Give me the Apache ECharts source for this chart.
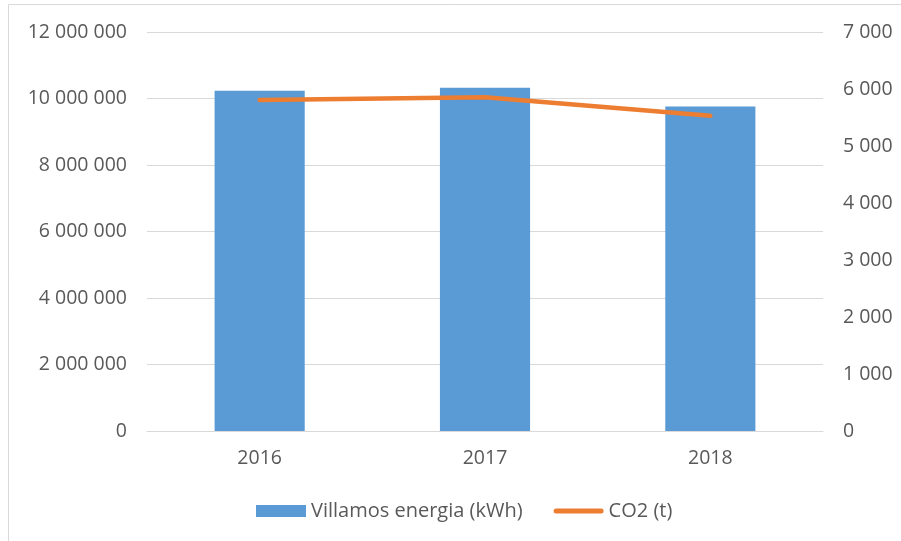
<!DOCTYPE html>
<html><head><meta charset="utf-8">
<script src="https://cdn.jsdelivr.net/npm/echarts@6/dist/echarts.min.js"></script>
<style>html,body{margin:0;padding:0;background:#fff}#c{width:901px;height:541px}</style>
</head><body><div id="c"></div>
<script>
const categories = ['2016', '2017', '2018'];
const energyKWh = [10230000, 10320000, 9760000];
const co2Tonnes = [5807, 5854, 5532];
const seriesNames = ['Villamos energia (kWh)', 'CO2 (t)'];

function fmt(v){ return String(v).replace(/\B(?=(\d{3})+(?!\d))/g, ' '); }

const font = 'Open Sans';
const txt = '#595959';
const chart = echarts.init(document.getElementById('c'), null, {renderer:'canvas'});
chart.setOption({
  animation: false,
  backgroundColor: '#fff',
  textStyle: {fontFamily: font},
  graphic: [
    {type:'line', shape:{x1:8.5,y1:4.5,x2:901,y2:4.5}, style:{stroke:'#d9d9d9', lineWidth:1}},
    {type:'line', shape:{x1:8.5,y1:4.5,x2:8.5,y2:541}, style:{stroke:'#d9d9d9', lineWidth:1}}
  ],
  grid: {left:147, right:78, top:32, bottom:110, containLabel:false},
  legend: {
    top: 496, left: 251,
    itemGap: 31, itemWidth: 50, itemHeight: 12,
    symbolKeepAspect: true,
    textStyle: {fontFamily: font, fontSize: 20, color: txt},
    data: [
      {name: seriesNames[0], icon: 'rect'},
      {name: seriesNames[1], icon: 'path://M2.5,0h45a2.5,2.5 0 0 1 0,5h-45a2.5,2.5 0 0 1 0,-5z'}
    ]
  },
  xAxis: {
    type: 'category', data: categories,
    axisLine: {lineStyle: {color: '#d9d9d9', width: 1}},
    axisTick: {show: false},
    axisLabel: {fontFamily: font, fontSize: 19.5, color: txt, margin: 17}
  },
  yAxis: [
    {type:'value', min:0, max:12000000, interval:2000000,
     axisLine:{show:false}, axisTick:{show:false},
     splitLine:{lineStyle:{color:'#d9d9d9', width:1}},
     axisLabel:{fontFamily:font, fontSize:19.5, color:txt, margin:20, formatter: fmt}},
    {type:'value', min:0, max:7000, interval:1000,
     axisLine:{show:false}, axisTick:{show:false}, splitLine:{show:false},
     axisLabel:{fontFamily:font, fontSize:19.5, color:txt, margin:20, formatter: fmt}}
  ],
  series: [
    {name: seriesNames[0], type:'bar', data: energyKWh, yAxisIndex:0,
     barWidth: '40%', itemStyle:{color:'#5B9BD5'}},
    {name: seriesNames[1], type:'line', data: co2Tonnes, yAxisIndex:1,
     symbol:'none', lineStyle:{color:'#ED7D31', width:4.5, cap:'round', join:'round'},
     itemStyle:{color:'#ED7D31'}}
  ]
});
</script></body></html>
